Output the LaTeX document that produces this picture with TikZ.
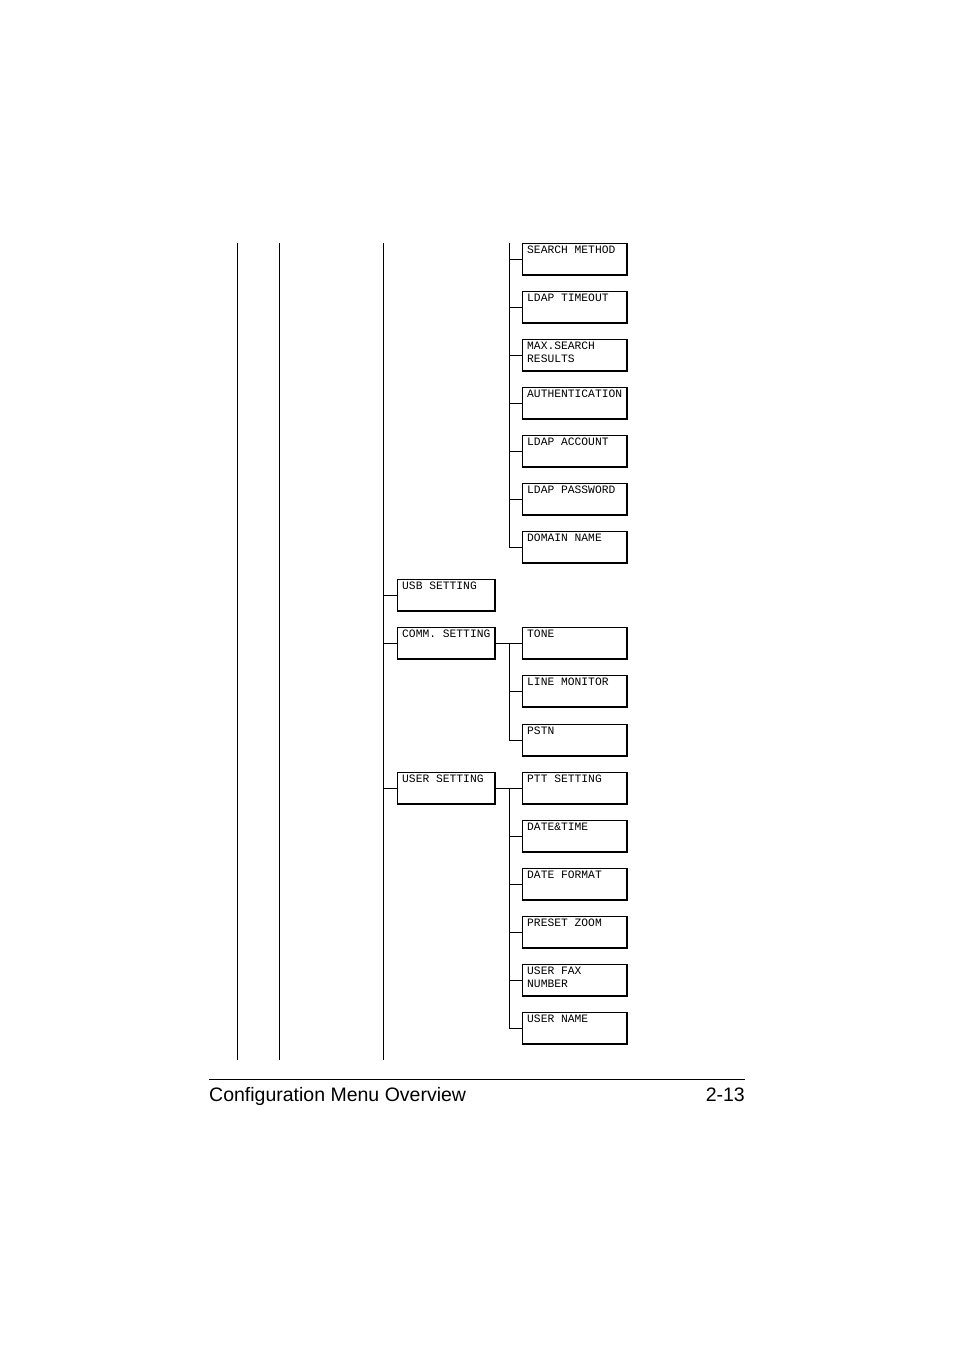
\documentclass[tikz,border=0pt]{standalone}
\usepackage{fontspec}
\setmainfont{Liberation Sans}
\newfontfamily\boxmono{Liberation Mono}
\begin{document}
\begin{tikzpicture}[x=1pt,y=-1pt,
  ln/.style={line width=0.9pt},
  mbox/.style={draw,line width=0.6pt,rectangle,anchor=north west,inner sep=0pt,
    text width=#1,minimum height=32pt,font=\boxmono\fontsize{11.3}{13}\selectfont},
  lbl/.style={anchor=north west,inner sep=0pt,align=left,font=\boxmono\fontsize{11.3}{13}\selectfont}]
\useasboundingbox (0,0) rectangle (954,1350);
\newcommand{\mybox}[5]{% name, x, y, w, text
  \coordinate (#1) at (#2,#3+16);
  \draw[line width=0.6pt] (#2,#3) rectangle (#2+#4,#3+32);
  \draw[line width=1.3pt] (#2+#4,#3) -- (#2+#4,#3+32) -- (#2,#3+32);
  \node[lbl] (#1t) at (#2+5,#3+2.5) {#5};}
\foreach \x in {237,279,383} \draw[ln] (\x,243) -- (\x,1060);
% LDAP children
\draw[ln] (509,243) -- (509,547);
\foreach \y/\t [count=\i] in {243/SEARCH METHOD,291/LDAP TIMEOUT,339/{MAX.SEARCH\\RESULTS},387/AUTHENTICATION,435/LDAP ACCOUNT,483/LDAP PASSWORD,531/DOMAIN NAME}{
  \mybox{l\i}{522}{\y}{105}{\t}
  \draw[ln] (509,\y+16) -- (l\i);}
\mybox{usb}{397}{579}{98}{USB SETTING}
\mybox{comm}{397}{627}{98}{COMM. SETTING}
\mybox{user}{397}{772}{98}{USER SETTING}
\foreach \n in {usb,comm,user} \draw[ln] (383,0|-\n) -- (\n);
\draw[ln] (495,643) -- (509,643) -- (509,740);
\foreach \y/\t [count=\i] in {627/TONE/PULSE,675/LINE MONITOR,724/PSTN/PBX}{
  \mybox{c\i}{522}{\y}{105}{\t}
  \draw[ln] (509,\y+16) -- (c\i);}
\draw[ln] (495,788) -- (509,788) -- (509,1028);
\foreach \y/\t [count=\i] in {772/PTT SETTING,820/DATE\&TIME,868/DATE FORMAT,916/PRESET ZOOM,964/{USER FAX\\NUMBER},1012/USER NAME}{
  \mybox{u\i}{522}{\y}{105}{\t}
  \draw[ln] (509,\y+16) -- (u\i);}
\draw[line width=0.9pt] (209,1079) -- (745,1079);
\node[anchor=base west,inner sep=0pt,font=\fontsize{19.5}{22}\selectfont] (ft) at (209,1101) {Configuration Menu Overview};
\node[anchor=base east,inner sep=0pt,font=\fontsize{19.5}{22}\selectfont] (pg) at (745,1101) {2-13};
\end{tikzpicture}
\end{document}
